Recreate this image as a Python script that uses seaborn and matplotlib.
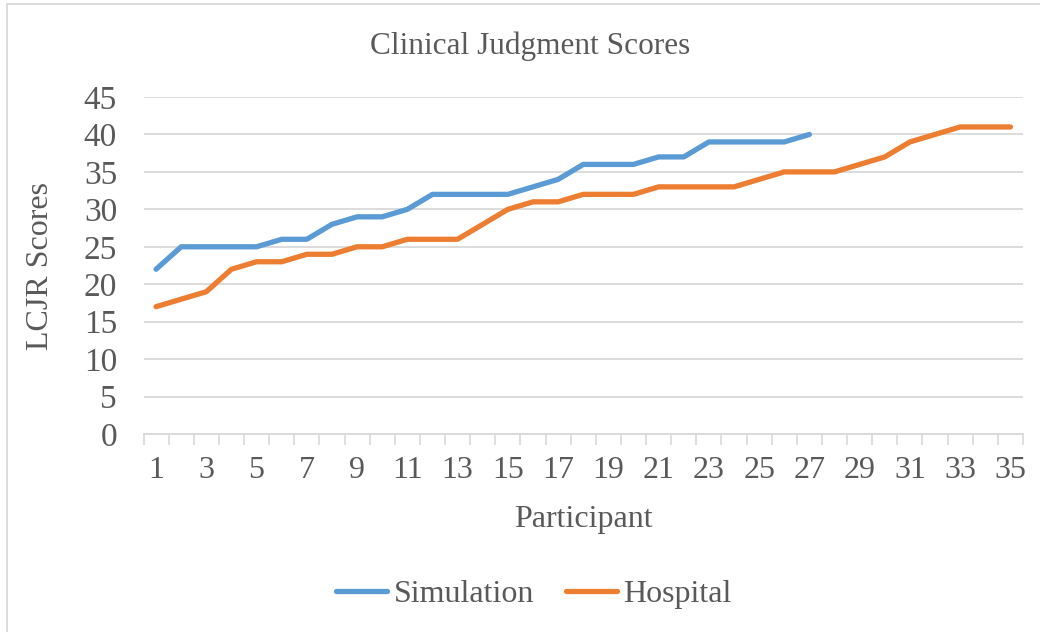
import matplotlib
matplotlib.use("Agg")
import matplotlib.pyplot as plt
import seaborn as sns
import pandas as pd
from matplotlib.patches import Rectangle

# ---- data ----
simulation = [22, 25, 25, 25, 25, 26, 26, 28, 29, 29, 30, 32, 32, 32, 32, 33, 34,
              36, 36, 36, 37, 37, 39, 39, 39, 39, 40]
hospital = [17, 18, 19, 22, 23, 23, 24, 24, 25, 25, 26, 26, 26, 28, 30, 31, 31,
            32, 32, 32, 33, 33, 33, 33, 34, 35, 35, 35, 36, 37, 39, 40, 41, 41, 41]
series_names = ["Simulation", "Hospital"]
title = "Clinical Judgment Scores"
x_label = "Participant"
y_label = "LCJR Scores"
y_ticks = list(range(0, 46, 5))

rows = []
for name, vals in zip(series_names, [simulation, hospital]):
    for i, v in enumerate(vals, start=1):
        rows.append({"Participant": i, "Score": v, "Series": name})
df = pd.DataFrame(rows)
n_cat = max(len(simulation), len(hospital))
x_ticks = list(range(1, n_cat + 1, 2))

sns.set_theme(style="white")
plt.rcParams["font.family"] = ["Liberation Serif", "DejaVu Serif"]
text_color = "#595959"
grid_color = "#D9D9D9"

fig = plt.figure(figsize=(10.4, 6.32), dpi=100)
fig.patch.set_facecolor("white")
# chart border
fig.add_artist(Rectangle((7 / 1040, -0.05), 1.2, (632 - 4) / 632 + 0.05,
                         transform=fig.transFigure, fill=False,
                         edgecolor=grid_color, linewidth=1.3))

ax = fig.add_axes([143.5 / 1040, 198 / 632, (1023 - 143.5) / 1040, 337 / 632])
sns.lineplot(data=df, x="Participant", y="Score", hue="Series",
             palette={"Simulation": "#5B9BD5", "Hospital": "#ED7D31"},
             linewidth=3.8, ax=ax, legend=False,
             solid_capstyle="round", solid_joinstyle="round", sort=False)

ax.set_xlim(0.5, n_cat + 0.5)
ax.set_ylim(0, 45)
ax.set_yticks(y_ticks)
ax.set_xticks(x_ticks)
ax.set_xticks([i + 0.5 for i in range(0, n_cat + 1)], minor=True)
ax.tick_params(axis="x", which="major", length=0, pad=16, labelsize=23, labelcolor=text_color)
ax.tick_params(axis="x", which="minor", length=8, width=1.2, color=grid_color, direction="out", bottom=True)
ax.tick_params(axis="y", length=0, pad=19, labelsize=24, labelcolor=text_color)
ax.yaxis.grid(True, color=grid_color, linewidth=1.3)
ax.set_axisbelow(True)
for s in ["top", "right", "left"]:
    ax.spines[s].set_visible(False)
ax.spines["bottom"].set_color(grid_color)
ax.spines["bottom"].set_linewidth(1.3)

ax.set_xlabel(x_label, fontsize=23, color=text_color, labelpad=14)
ax.set_ylabel(y_label, fontsize=23, color=text_color, labelpad=21)
fig.text(530 / 1040, 1 - 46 / 632, title, ha="center", va="center",
         fontsize=22.5, color=text_color)

handles = [plt.Line2D([], [], color=c, linewidth=3.8, solid_capstyle="round")
           for c in ["#5B9BD5", "#ED7D31"]]
fig.legend(handles, series_names, loc="center", bbox_to_anchor=(534 / 1040, 38 / 632),
           ncol=2, frameon=False, fontsize=23, labelcolor=text_color,
           handlelength=1.6, handletextpad=0.2, columnspacing=1.0)

fig.savefig("out.png", dpi=100)
